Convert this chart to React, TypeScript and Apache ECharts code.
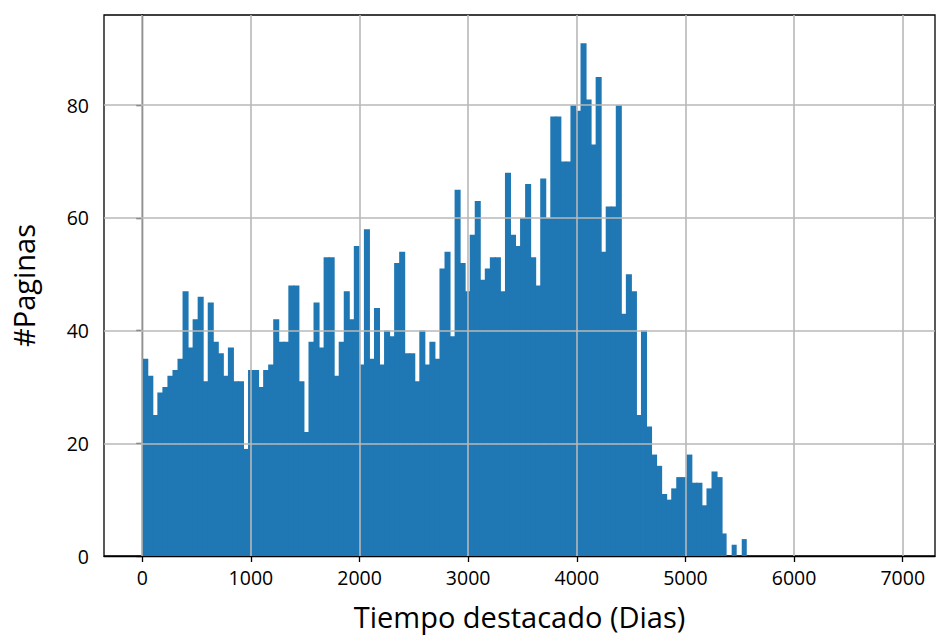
import React, { useEffect, useRef } from "react";
import * as echarts from "echarts";

// Histogram: counts per bin (bin width in days), starting at 0 days
const BIN_WIDTH = 46.37;
const counts: number[] = [
  35, 32, 25, 29, 30, 32, 33, 35, 47, 37, 42, 46, 31, 45, 38, 36, 32, 37, 31, 31,
  19, 33, 33, 30, 33, 34, 42, 38, 38, 48, 48, 31, 22, 38, 45, 37, 53, 53, 32, 38,
  47, 42, 55, 34, 58, 35, 44, 34, 40, 39, 52, 54, 36, 36, 31, 40, 34, 38, 35, 51,
  54, 39, 65, 52, 47, 57, 63, 49, 51, 53, 53, 47, 68, 57, 55, 60, 66, 53, 48, 67,
  60, 78, 78, 70, 70, 80, 79, 91, 81, 73, 85, 54, 62, 62, 80, 43, 50, 47, 25, 40,
  23, 18, 16, 11, 10, 12, 14, 14, 18, 13, 13, 9, 12, 15, 14, 4, 0, 2, 0, 3,
];
const xTicks: number[] = [0, 1000, 2000, 3000, 4000, 5000, 6000, 7000];
const yTicks: number[] = [0, 20, 40, 60, 80];
const X_MIN = -352;
const X_MAX = 7297;
const Y_MAX = 96;

const xLabel = "Tiempo destacado (Dias)";
const yLabel = "#Paginas";

const FONT = "'Open Sans', 'DejaVu Sans', sans-serif";
const BAR_COLOR = "#1f77b4";

export default function App() {
  const ref = useRef<HTMLDivElement>(null);
  useEffect(() => {
    if (!ref.current) return;
    const chart = echarts.init(ref.current, undefined, { renderer: "svg" });
    const data = counts
      .map((c, i) => [i * BIN_WIDTH, (i + 1) * BIN_WIDTH, c, counts[i + 1] || 0])
      .filter((d) => d[2] > 0);
    chart.setOption({
      animation: false,
      backgroundColor: "#ffffff",
      grid: {
        left: 104,
        top: 15,
        right: 2,
        bottom: 82,
        show: true,
        borderColor: "#000000",
        borderWidth: 1.3,
        backgroundColor: "transparent",
      },
      xAxis: {
        type: "value",
        min: X_MIN,
        max: X_MAX,
        name: xLabel,
        nameLocation: "middle",
        nameGap: 46,
        nameTextStyle: { fontFamily: FONT, fontSize: 29, color: "#000" },
        axisLine: { show: true, onZero: false, lineStyle: { color: "#000", width: 1.3 } },
        axisTick: { show: true, length: 6, customValues: xTicks, lineStyle: { color: "#000", width: 1.3 } },
        axisLabel: {
          customValues: xTicks,
          margin: 11,
          fontFamily: FONT,
          fontSize: 19.5,
          color: "#000",
          formatter: (v: number) => String(v),
        },
        splitLine: { show: false },
      },
      yAxis: {
        type: "value",
        min: 0,
        max: Y_MAX,
        name: yLabel,
        nameLocation: "middle",
        nameGap: 66,
        nameTextStyle: { fontFamily: FONT, fontSize: 29, color: "#000" },
        axisLine: { show: true, lineStyle: { color: "#000", width: 1.3 } },
        axisTick: { show: true, length: 6, customValues: yTicks, lineStyle: { color: "#000", width: 1.3 } },
        axisLabel: {
          customValues: yTicks,
          margin: 15,
          fontFamily: FONT,
          fontSize: 19.5,
          color: "#000",
          formatter: (v: number) => String(v),
        },
        splitLine: { show: false },
      },
      series: [
        {
          type: "custom",
          encode: { x: [0, 1], y: 2 },
          data,
          renderItem: (params: any, api: any) => {
            const p0 = api.coord([api.value(0), api.value(2)]);
            const p1 = api.coord([api.value(1), 0]);
            // overlap into the next bar (if any) to avoid anti-aliasing seams
            const overlap = api.value(3) > 0 ? 1 : 0;
            return {
              type: "rect",
              shape: {
                x: p0[0],
                y: p0[1],
                width: p1[0] - p0[0] + overlap,
                height: p1[1] - p0[1],
              },
              style: { fill: BAR_COLOR },
            };
          },
          markLine: {
            silent: true,
            symbol: ["none", "none"],
            label: { show: false },
            lineStyle: { color: "#b8b8b8", width: 1.6, type: "solid" },
            data: [
              ...xTicks.map((v) => ({ xAxis: v })),
              ...yTicks.filter((v) => v > 0).map((v) => ({ yAxis: v })),
            ],
          },
        },
      ],
    });
    return () => chart.dispose();
  }, []);
  return (
    <div
      ref={ref}
      style={{ position: "fixed", left: 0, top: 0, width: 937, height: 638 }}
    />
  );
}
